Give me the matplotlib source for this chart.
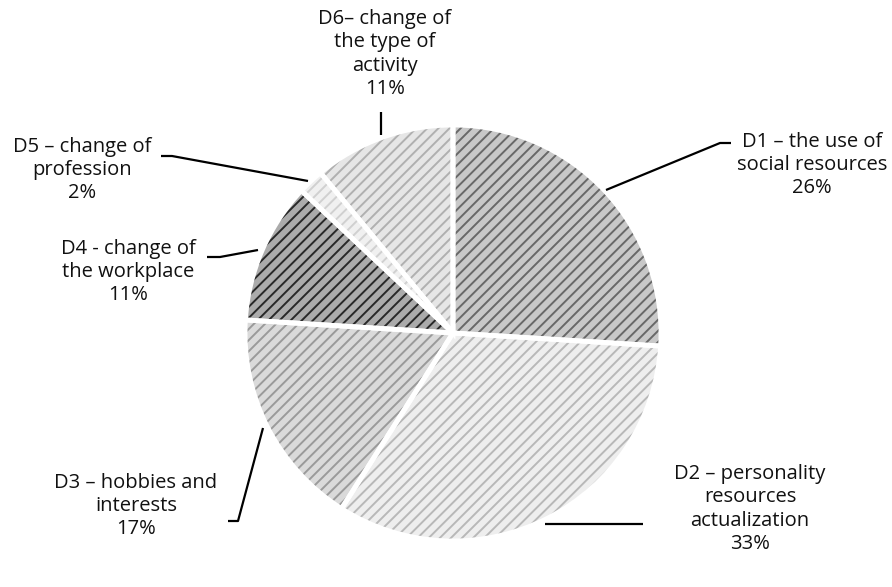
import matplotlib
matplotlib.use("Agg")
import matplotlib.pyplot as plt

categories = ["D1 \u2013 the use of\nsocial resources",
              "D2 \u2013 personality\nresources\nactualization",
              "D3 \u2013 hobbies and\ninterests",
              "D4 - change of\nthe workplace",
              "D5 \u2013 change of\nprofession",
              "D6\u2013 change of\nthe type of\nactivity"]
values = [26, 33, 17, 11, 2, 11]
face_colors = ["#c8c8c8", "#eeeeee", "#dadada", "#ababab", "#f0f0f0", "#e6e6e6"]
hatch_colors = ["#686868", "#b8b8b8", "#9a9a9a", "#282828", "#d0d0d0", "#b0b0b0"]

plt.rcParams['hatch.linewidth'] = 1.4
W, H = 892, 587
fig = plt.figure(figsize=(W / 100, H / 100), dpi=100)
ax = fig.add_axes([0, 0, 1, 1])


def P(x, y):
    return (x, H - y)


center = P(453, 333)
radius = 208

wedges, _ = ax.pie(values, startangle=90, counterclock=False, center=center,
                   radius=radius, frame=True)
for w, fc, hc in zip(wedges, face_colors, hatch_colors):
    w.set_facecolor(fc)
    w.set_edgecolor(hc)
    w.set_hatch("///")
    w.set_linewidth(0)
ax.pie(values, startangle=90, counterclock=False, center=center,
       radius=radius, frame=True,
       wedgeprops=dict(fill=False, edgecolor="white", linewidth=3.5))
ax.set_xlim(0, W)
ax.set_ylim(0, H)
ax.set_aspect('equal')
ax.axis('off')

font = dict(family="Open Sans", fontsize=14.5, color="#111111",
            ha="center", va="center", linespacing=1.22)

label_pos = [(812, 165), (750, 509), (136, 506), (128, 272), (82, 170), (385, 54)]
for (x, y), cat, v in zip(label_pos, categories, values):
    ax.text(*P(x, y), f"{cat}\n{v}%", **font)

leaders = [
    [(606, 190), (720, 143), (731, 143)],
    [(545, 524), (643, 524)],
    [(263, 428), (238, 521), (228, 521)],
    [(207, 257), (220, 257), (258, 250)],
    [(161, 156), (172, 156), (308, 181)],
    [(381, 112), (381, 135)],
]
for pts in leaders:
    xs, ys = zip(*[P(x, y) for x, y in pts])
    ax.plot(xs, ys, color="black", lw=1.6, solid_capstyle="butt")

fig.savefig("out.png", dpi=100)
